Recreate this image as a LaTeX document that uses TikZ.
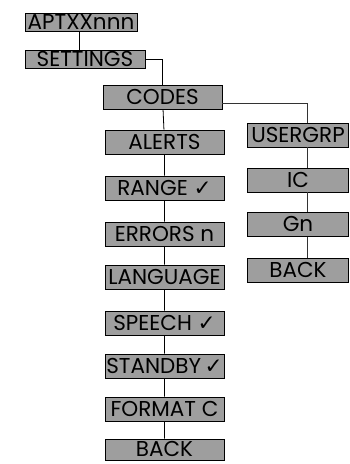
\documentclass[tikz,border=0pt]{standalone}
\usepackage{fontspec}
\setmainfont{Poppins}
\newfontfamily\symfont{DejaVu Sans}
\newcommand{\chk}{{\symfont ✓}}
\begin{document}
\begin{tikzpicture}[x=1pt,y=-1pt,
  menubox/.style={draw=black,line width=0.8pt,fill=black!38,inner sep=0pt,
    minimum height=24pt,minimum width=119pt,font=\fontsize{21.5}{22}\selectfont,text=black,
    text height=15.5pt,text depth=1pt},
  topbox/.style={menubox,minimum height=18pt,text depth=0pt,text height=15pt},
  subbox/.style={menubox,minimum width=101pt},
  link/.style={draw=black,line width=0.8pt},
  sublink/.style={draw=black!80,line width=0.6pt}]
\useasboundingbox (0,0) rectangle (349,464);
\node[topbox,minimum width=112pt] (aptx) at (81,22) {APTXXnnn};
\node[topbox,minimum width=120pt] (settings) at (85,59) {SETTINGS};
\node[menubox] (codes) at (162.5,97.5) {CODES};
\node[menubox] (alerts) at (164.5,142) {ALERTS};
\node[menubox] (range) at (164.5,188) {RANGE \chk};
\node[menubox] (errors) at (164.5,234) {ERRORS n};
\node[menubox] (language) at (164.5,277) {LANGUAGE};
\node[menubox] (speech) at (164.5,323) {SPEECH \chk};
\node[menubox] (standby) at (164.5,366) {STANDBY\,\chk};
\node[menubox] (format) at (164.5,409) {FORMAT C};
\node[menubox,minimum height=21pt] (back) at (164.5,449.5) {BACK};
\node[subbox] (usergrp) at (298,135) {USERGRP};
\node[subbox] (ic) at (298,180) {IC};
\node[subbox] (gn) at (298,224.5) {Gn};
\node[subbox] (back2) at (298,270) {BACK};
\coordinate (rc) at (307,103);
\draw[link] (aptx.south -| 79,0) -- (settings.north -| 79,0);
\draw[link] (settings.east) -| (codes.north);
\draw[link] (codes) -- (alerts) -- (range) -- (errors) -- (language) -- (speech) -- (standby) -- (format) -- (back);
\draw[sublink] (codes.east |- rc) -- (rc) -- (rc |- usergrp.north);
\draw[sublink] (rc |- usergrp.south) -- (rc |- ic.north);
\draw[sublink] (rc |- ic.south) -- (rc |- gn.north);
\draw[sublink] (rc |- gn.south) -- (rc |- back2.north);
\end{tikzpicture}
\end{document}
